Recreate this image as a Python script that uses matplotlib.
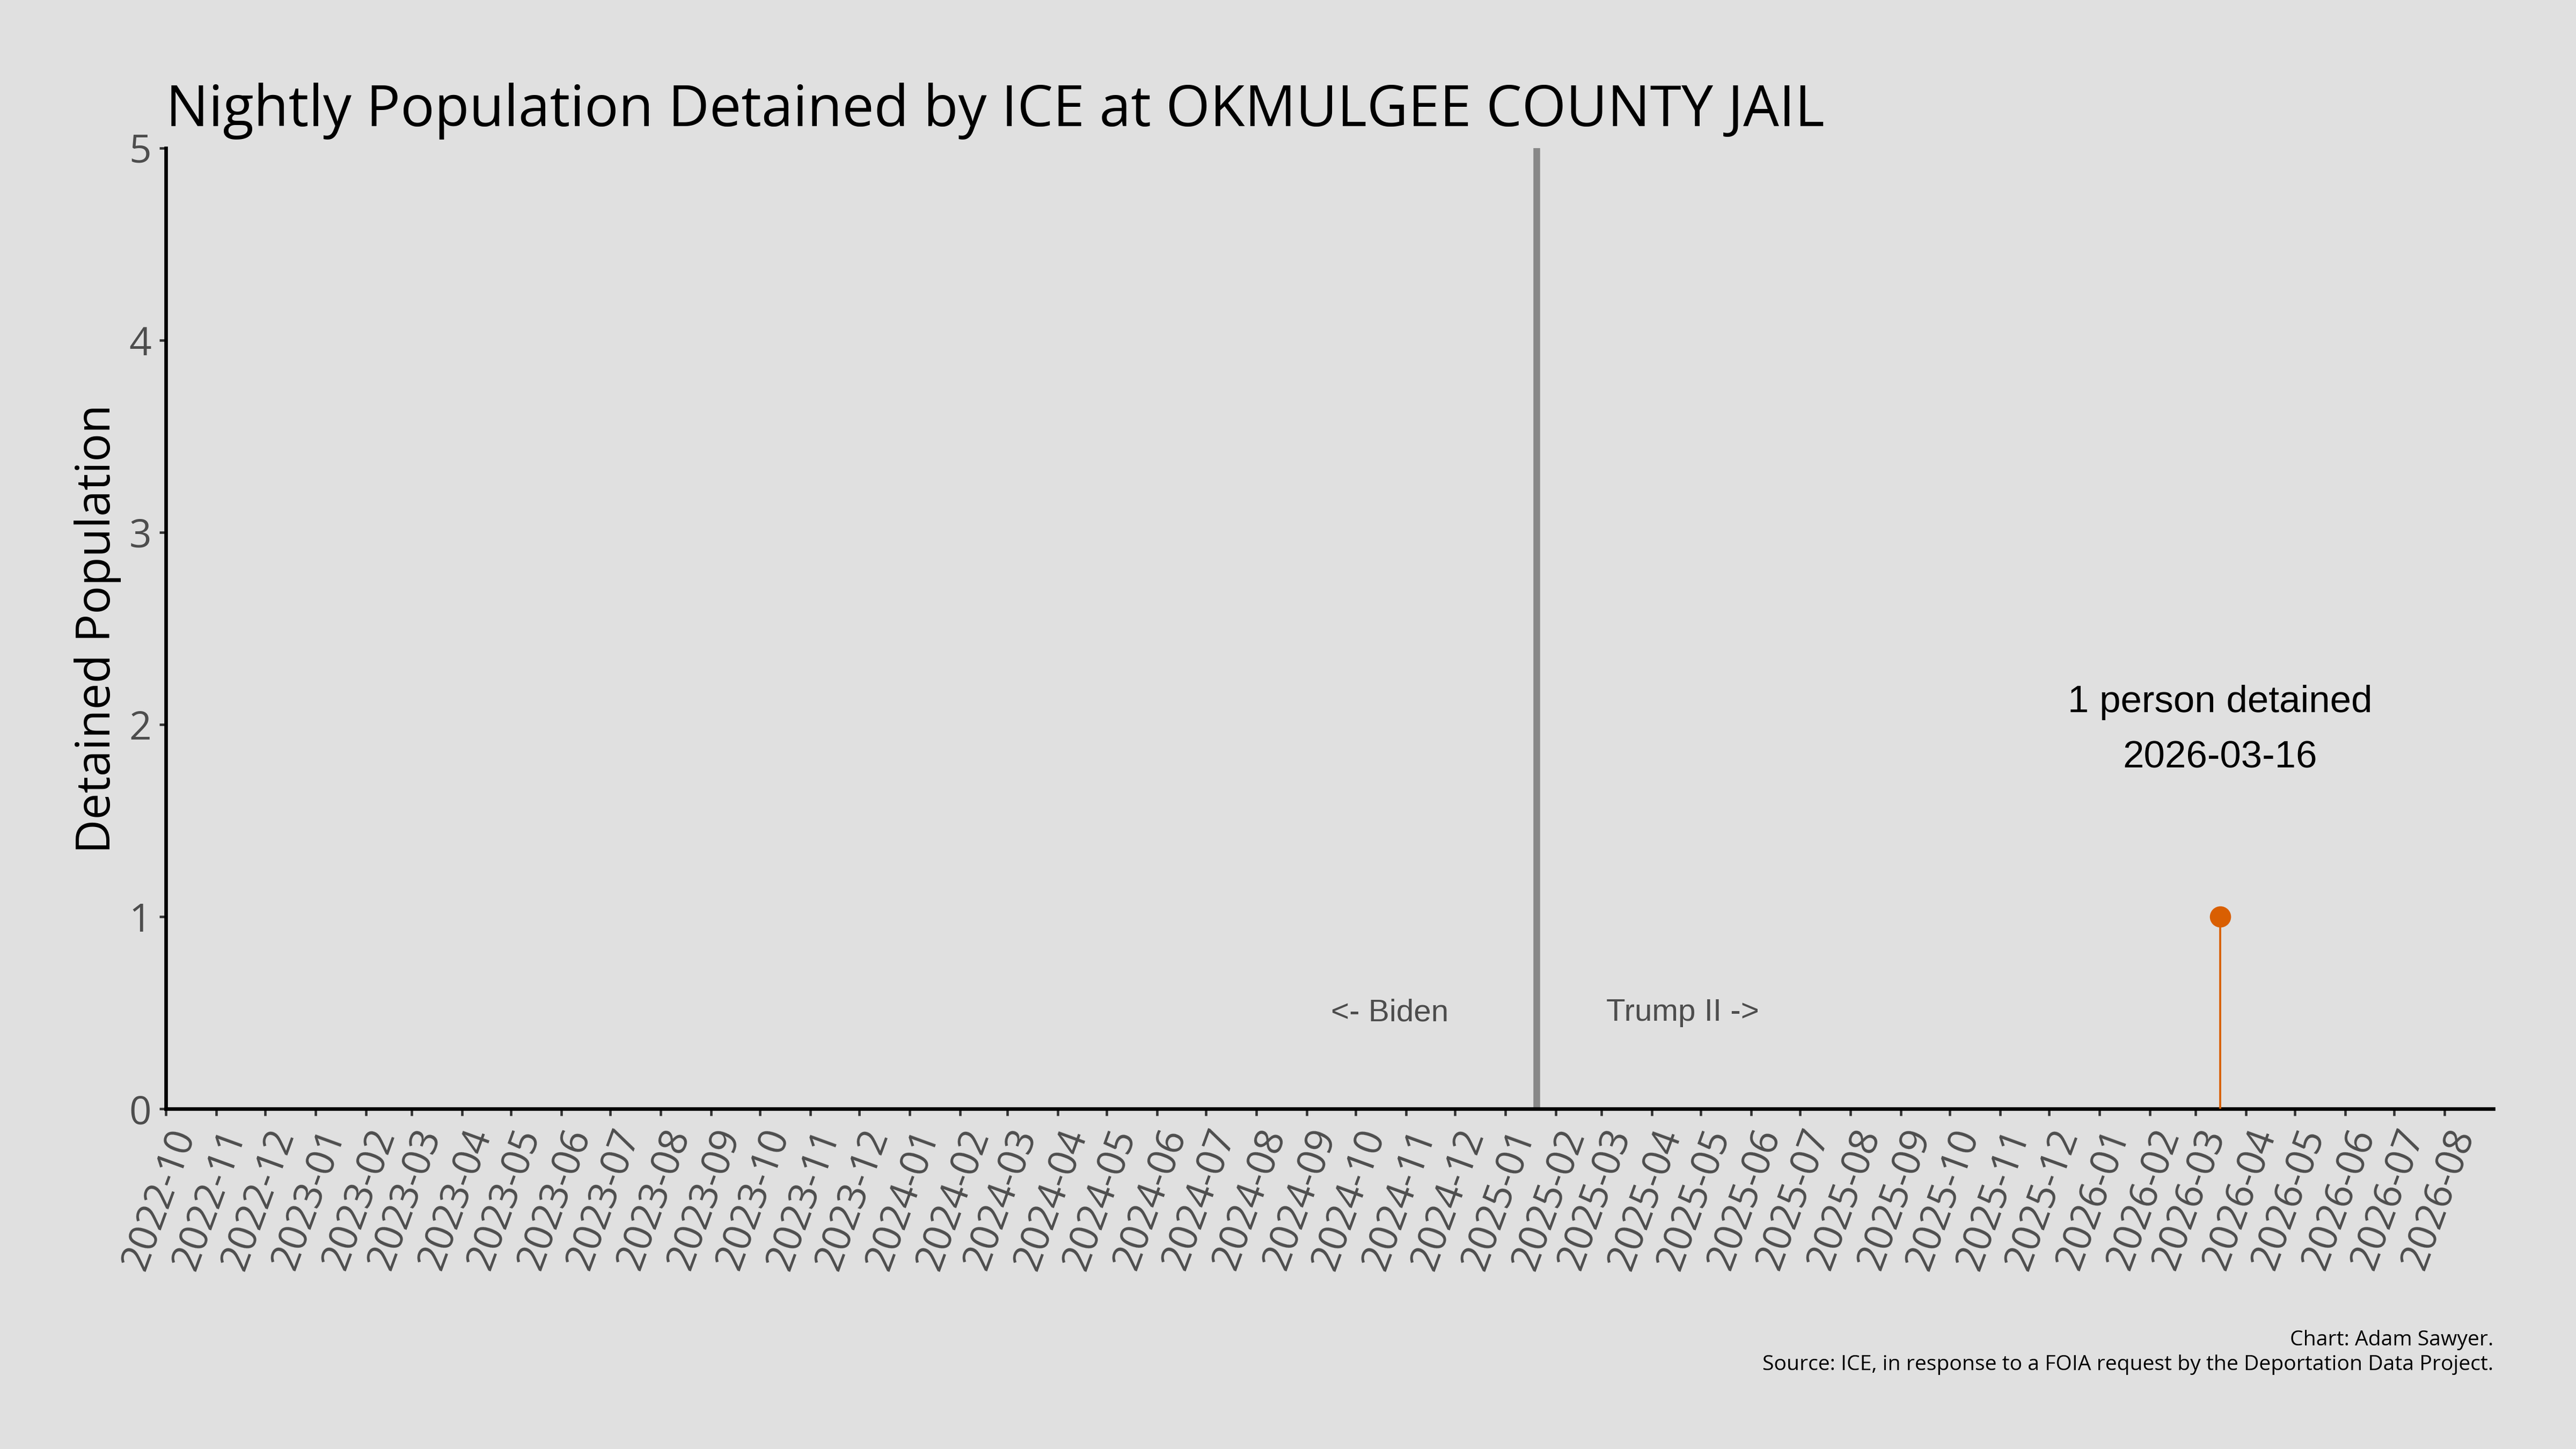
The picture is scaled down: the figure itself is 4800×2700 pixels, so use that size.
import matplotlib
matplotlib.use("Agg")
import matplotlib.pyplot as plt
import matplotlib.dates as mdates
import numpy as np
import pandas as pd

# data
facility = "OKMULGEE COUNTY JAIL"
dates = pd.to_datetime(["2026-03-16"])
population = [1]
inauguration = pd.Timestamp("2025-01-20")
x_start = pd.Timestamp("2022-10-01")
x_end = pd.Timestamp("2026-08-31")
y_ticks = [0, 1, 2, 3, 4, 5]

bg = "#E0E0E0"
orange = "#D95F02"
grey_txt = "#4D4D4D"

plt.rcParams["font.family"] = ["Open Sans", "DejaVu Sans"]

fig = plt.figure(figsize=(16, 9), dpi=300, facecolor=bg)
ax = fig.add_axes([0.0644, 0.2348, 0.9036, 0.663])
ax.set_facecolor(bg)

# stem + point
ax.vlines(dates, 0, population, color=orange, linewidth=0.9, zorder=3)
ax.scatter(dates, population, s=90, color=orange, zorder=4, linewidths=0)

# inauguration line
ax.axvline(inauguration, color="#888888", linewidth=3, zorder=2)
ax.text(inauguration - pd.Timedelta(days=90), 0.5, "<- Biden", ha="center", va="center",
        family="Liberation Sans", fontsize=14, color=grey_txt)
ax.text(inauguration + pd.Timedelta(days=90), 0.5, "Trump II ->", ha="center", va="center",
        family="Liberation Sans", fontsize=14, color=grey_txt)

# annotation for the single point
ax.text(dates[0], 1.97, "1 person detained\n" + dates[0].strftime("%Y-%m-%d"),
        ha="center", va="center", family="Liberation Sans", fontsize=17,
        color="black", linespacing=1.75)

ax.set_xlim(x_start, x_end)
ax.set_ylim(0, 5)
ax.set_yticks(y_ticks)
ax.xaxis.set_major_locator(mdates.MonthLocator())
ax.xaxis.set_major_formatter(mdates.DateFormatter("%Y-%m"))

for s in ["top", "right"]:
    ax.spines[s].set_visible(False)
for s in ["left", "bottom"]:
    ax.spines[s].set_linewidth(1.6)
    ax.spines[s].set_color("black")

ax.tick_params(axis="both", colors="#333333", length=3, width=1.1, labelcolor=grey_txt,
               labelsize=17.5)
plt.setp(ax.get_xticklabels(), rotation=70, ha="right", va="top", rotation_mode="anchor")

fig.text(0.0644, 0.913, "Nightly Population Detained by ICE at " + facility,
         ha="left", va="baseline", fontsize=25.4, color="black")
fig.text(0.038, 0.566, "Detained Population", rotation=90, ha="center", va="center",
         fontsize=21, color="black")
fig.text(0.968, 0.0715, "Chart: Adam Sawyer.", ha="right", va="baseline", fontsize=9.4, color="black")
fig.text(0.968, 0.0545, "Source: ICE, in response to a FOIA request by the Deportation Data Project.",
         ha="right", va="baseline", fontsize=9.4, color="black")

fig.savefig("out.png", dpi=300, facecolor=bg)
